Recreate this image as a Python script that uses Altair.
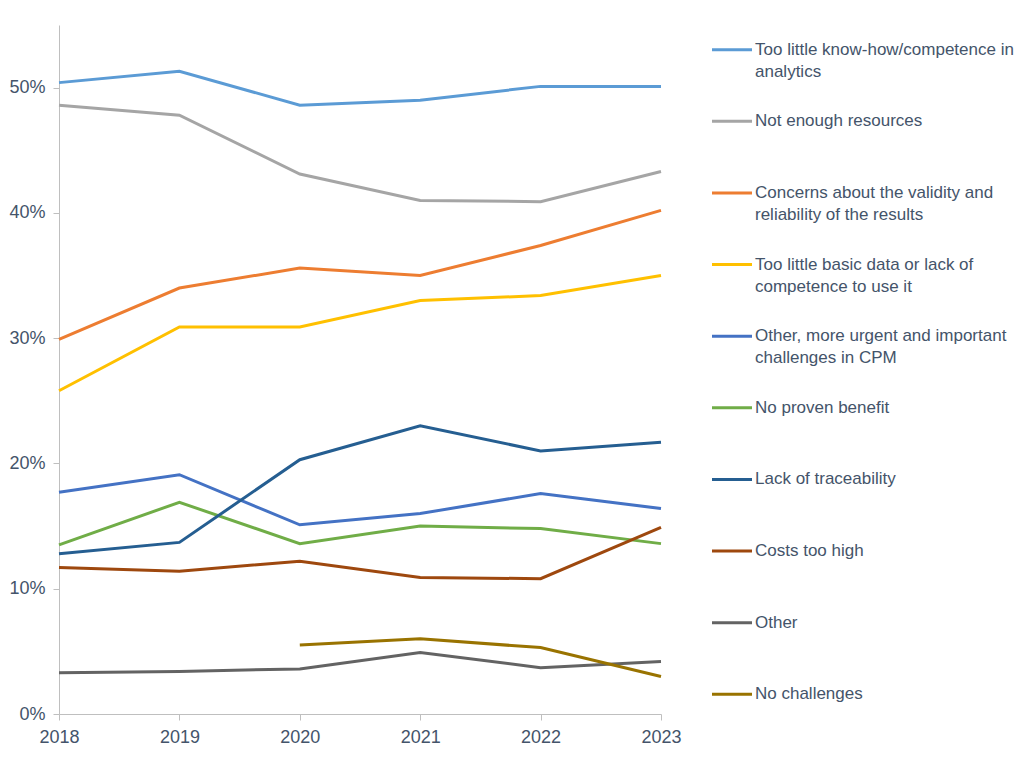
import altair as alt
import pandas as pd

years = [2018, 2019, 2020, 2021, 2022, 2023]

series_names = [
    "Too little know-how/competence in analytics",
    "Not enough resources",
    "Concerns about the validity and reliability of the results",
    "Too little basic data or lack of competence to use it",
    "Other, more urgent and important challenges in CPM",
    "No proven benefit",
    "Lack of traceability",
    "Costs too high",
    "Other",
    "No challenges",
]

# legend labels, split the way the reference wraps them
legend_lines = [
    ["Too little know-how/competence in", "analytics"],
    ["Not enough resources"],
    ["Concerns about the validity and", "reliability of the results"],
    ["Too little basic data or lack of", "competence to use it"],
    ["Other, more urgent and important", "challenges in CPM"],
    ["No proven benefit"],
    ["Lack of traceability"],
    ["Costs too high"],
    ["Other"],
    ["No challenges"],
]

colors = ["#5B9BD5", "#A5A5A5", "#ED7D31", "#FFC000", "#4472C4",
          "#70AD47", "#255E91", "#9E480E", "#636363", "#997300"]

knowhow = [50.4, 51.3, 48.6, 49.0, 50.1, 50.1]
resources = [48.6, 47.8, 43.1, 41.0, 40.9, 43.3]
validity = [29.9, 34.0, 35.6, 35.0, 37.4, 40.2]
basic_data = [25.8, 30.9, 30.9, 33.0, 33.4, 35.0]
urgent = [17.7, 19.1, 15.1, 16.0, 17.6, 16.4]
no_benefit = [13.5, 16.9, 13.6, 15.0, 14.8, 13.6]
traceability = [12.8, 13.7, 20.3, 23.0, 21.0, 21.7]
costs = [11.7, 11.4, 12.2, 10.9, 10.8, 14.9]
other = [3.3, 3.4, 3.6, 4.9, 3.7, 4.2]
no_challenges = [None, None, 5.5, 6.0, 5.3, 3.0]

all_values = [knowhow, resources, validity, basic_data, urgent,
              no_benefit, traceability, costs, other, no_challenges]

rows = []
for name, vals in zip(series_names, all_values):
    for yr, v in zip(years, vals):
        if v is not None:
            rows.append({"year": yr, "series": name, "value": v})
df = pd.DataFrame(rows)

legend_df = pd.DataFrame({"series": series_names, "lines": legend_lines})

text_color = "#44546A"
font = "Liberation Sans"

color_scale = alt.Scale(domain=series_names, range=colors)

lines = alt.Chart(df).mark_line(strokeWidth=3).encode(
    x=alt.X("year:Q", scale=alt.Scale(domain=[2018, 2023], nice=False),
            axis=alt.Axis(values=years, format="d", title=None, grid=False,
                          labelFontSize=18, labelColor=text_color, labelFont=font,
                          domainColor="#BFBFBF", tickColor="#BFBFBF", tickSize=6,
                          labelPadding=8, labelFlush=False)),
    y=alt.Y("value:Q", scale=alt.Scale(domain=[0, 55], nice=False),
            axis=alt.Axis(values=[0, 10, 20, 30, 40, 50], labelExpr="datum.value + '%'",
                          title=None, grid=False, labelFontSize=18,
                          labelColor=text_color, labelFont=font,
                          domainColor="#BFBFBF", tickColor="#BFBFBF", tickSize=6,
                          labelPadding=8)),
    color=alt.Color("series:N", scale=color_scale, legend=None),
    detail="series:N",
).properties(width=602, height=689)

legend_y = alt.Y("series:N", sort=series_names, axis=None,
                 scale=alt.Scale(type="point", padding=0.31))

legend_rules = alt.Chart(legend_df).mark_rule(strokeWidth=3, yOffset=2.5).encode(
    x=alt.value(0), x2=alt.value(40),
    y=legend_y,
    color=alt.Color("series:N", scale=color_scale, legend=None),
)

legend_text = alt.Chart(legend_df).mark_text(
    align="left", baseline="alphabetic", dy=5, yOffset=2.5, fontSize=17,
    font=font, color=text_color, lineHeight=22,
).encode(
    x=alt.value(43),
    y=legend_y,
    text="lines",
)

legend = alt.layer(legend_rules, legend_text).properties(width=240, height=689)

chart = alt.hconcat(lines, legend, spacing=28).properties(
    padding={"left": 0, "top": 17, "right": 0, "bottom": 0}
).configure_view(stroke=None)

chart.save("out.html", embed_options={"renderer": "svg", "actions": False})
